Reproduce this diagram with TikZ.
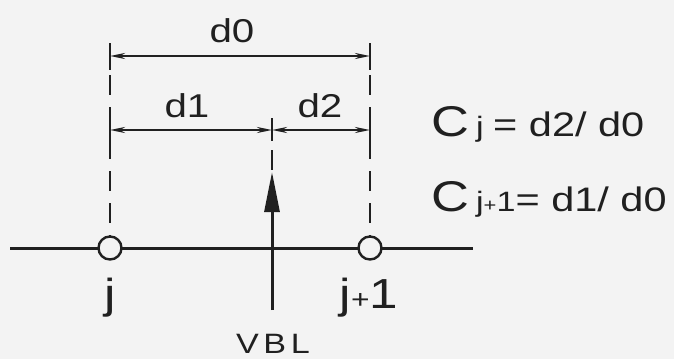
\documentclass[tikz,border=0pt]{standalone}
\usepackage{fontspec}
\setmainfont[FakeStretch=1.22]{Liberation Sans}
\usetikzlibrary{arrows.meta}
\definecolor{paper}{RGB}{243,243,243}
\definecolor{ink}{RGB}{32,32,32}
\newcommand{\fs}[1]{\fontsize{#1}{#1}\selectfont}
\begin{document}
\begin{tikzpicture}[x=1pt,y=-1pt,line width=2.2pt,draw=ink,text=ink,
  dimline/.style={{Stealth[length=15pt,width=6pt]}-{Stealth[length=15pt,width=6pt]}},
  guide/.style={dash pattern=on 20pt off 12pt},
  gridpt/.style={circle,draw,fill=paper,line width=2.4pt,minimum size=23pt,inner sep=0},
  lbl/.style={inner sep=0,anchor=base}]
  \fill[paper] (0,0) rectangle (674,359);
  \useasboundingbox (0,0) rectangle (674,359);
  % base line and grid points
  \coordinate (w) at (10,248); \coordinate (e) at (473,248);
  \draw[line width=3pt] (w) -- (e);
  \node[gridpt] (j) at (110,248) {};
  \node[gridpt] (jp) at (370,248) {};
  % guides
  \coordinate (jt) at (110,43); \coordinate (jpt) at (370,43);
  \coordinate (mt) at (272,118); \coordinate (tip) at (272,172);
  \draw[guide] (jt) -- (j.north); \draw[guide] (jpt) -- (jp.north);
  \draw[guide] (mt) -- (tip);
  % ticks
  \coordinate (t1) at (110,70); \coordinate (t2) at (370,70);
  \coordinate (t3) at (110,117); \coordinate (t4) at (110,141);
  \coordinate (t5) at (370,117); \coordinate (t6) at (370,141);
  \coordinate (t7) at (272,141);
  \draw (jt) -- (t1); \draw (jpt) -- (t2);
  \draw (t3) -- (t4); \draw (t5) -- (t6); \draw (mt) -- (t7);
  % dimensions
  \coordinate (a0) at (110,56); \coordinate (b0) at (370,56);
  \coordinate (a1) at (110,130); \coordinate (m1) at (272,130); \coordinate (b1) at (370,130);
  \draw[dimline] (a0) -- (b0);
  \draw[dimline] (a1) -- (m1);
  \draw[dimline] (m1) -- (b1);
  \node[lbl] (d0) at (232,42) {\fs{33}d0};
  \node[lbl] (d1) at (187,117) {\fs{33}d1};
  \node[lbl] (d2) at (320,117) {\fs{33}d2};
  % VBL
  \node[lbl] (vbl) at (273,353) {\fs{28}V\,B\,L};
  \coordinate (vb) at (272,310);
  \draw[line width=3pt,-{Triangle[length=40pt,width=15pt]}] (vb) -- (tip);
  % point labels
  \node[lbl] (lj) at (110,308) {\fs{42}j};
  \node[lbl] (ljp) at (369,308) {\fs{42}j\fs{26}+\fs{42}1};
  % weights
  \node[lbl,anchor=base west] (cj) at (430,136)
    {\fs{43}C\,\fs{28}j \fs{34}= d2/ d0};
  \node[lbl,anchor=base west] (cjp) at (430,211)
    {\fs{43}C\,\fs{28}j\fs{18}+\fs{28}1\fs{34}= d1/ d0};
\end{tikzpicture}
\end{document}
